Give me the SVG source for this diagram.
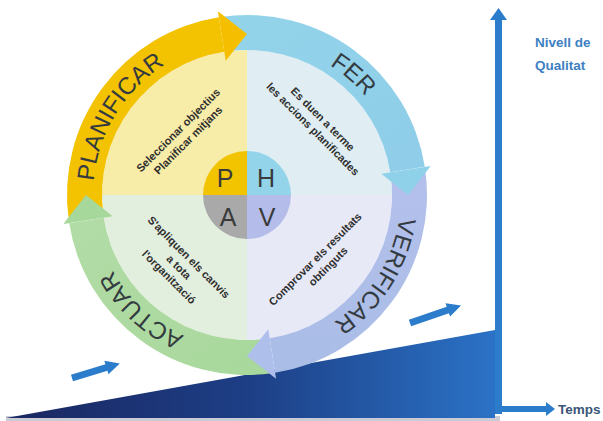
<svg xmlns="http://www.w3.org/2000/svg" width="603" height="421" viewBox="0 0 603 421">
<style>
.lbl{font-family:"Liberation Sans",Arial,sans-serif;font-size:24px;fill:#333a40}
.q{font-family:"Liberation Sans",Arial,sans-serif;font-size:11px;font-weight:bold;fill:#2e2e2e;text-anchor:middle}
.let{font-family:"Liberation Sans",Arial,sans-serif;font-size:25px;fill:#3a3a3a;text-anchor:middle}
.ax{font-family:"Liberation Sans",Arial,sans-serif;font-weight:bold;font-size:13.5px}
.blue{fill:#2b7dcc}
</style>
<defs>
<linearGradient id="wedge" x1="0" y1="0" x2="1" y2="0">
<stop offset="0" stop-color="#1a2660"/>
<stop offset="0.5" stop-color="#1d3f86"/>
<stop offset="1" stop-color="#2b72c6"/>
</linearGradient>
<linearGradient id="gBlue" x1="0" y1="0" x2="1" y2="1">
<stop offset="0" stop-color="#93d4ea"/>
<stop offset="1" stop-color="#8fcde8"/>
</linearGradient>
<linearGradient id="gLav" x1="0" y1="0" x2="0" y2="1">
<stop offset="0" stop-color="#b4c0ec"/>
<stop offset="1" stop-color="#a9bde6"/>
</linearGradient>
<linearGradient id="gGreen" x1="1" y1="1" x2="0" y2="0">
<stop offset="0" stop-color="#a8d89c"/>
<stop offset="1" stop-color="#b2dca6"/>
</linearGradient>
<path id="tp" d="M401,195 A154,154 0 1 1 93,195 A154,154 0 1 1 401,195"/>
</defs>
<rect width="603" height="421" fill="#ffffff"/>

<g id="background">
<rect x="6" y="416" width="494" height="5" fill="#c9ccd4"/>
<polygon points="6,418 495,330 495,418" fill="url(#wedge)"/>
</g>

<g id="connectors">
<rect x="495" y="18" width="7" height="396" class="blue"/>
<polygon points="490,20 498.5,8 507,20" class="blue"/>
<rect x="498" y="406" width="50" height="6" class="blue"/>
<polygon points="546,402 555,409 546,416" class="blue"/>
<g transform="translate(72,378) rotate(-17)">
<polygon points="0,-3.5 36,-3.5 36,-7 50,0 36,7 36,3.5 0,3.5" class="blue"/>
</g>
<g transform="translate(410,323) rotate(-19)">
<polygon points="0,-3.5 40,-3.5 40,-7 54,0 40,7 40,3.5 0,3.5" class="blue"/>
</g>
</g>

<g id="quadrants">
<path d="M247,195 L102,195 A145,145 0 0 1 247,50 Z" fill="#f7eca8"/>
<path d="M247,195 L247,50 A145,145 0 0 1 392,195 Z" fill="#e0eef3"/>
<path d="M247,195 L392,195 A145,145 0 0 1 247,340 Z" fill="#e8e9f6"/>
<path d="M247,195 L247,340 A145,145 0 0 1 102,195 Z" fill="#e3efde"/>
</g>

<g id="bands">
<path d="M68.75,220.06 A180,180 0 0 1 218.85,17.21 L224.32,51.78 A145,145 0 0 0 103.41,215.18 Z" fill="#f3c200"/>
<path d="M221.94,16.75 A180,180 0 0 1 424.79,166.85 L390.22,172.32 A145,145 0 0 0 226.82,51.41 Z" fill="url(#gBlue)"/>
<path d="M425.25,169.94 A180,180 0 0 1 275.15,372.79 L269.68,338.22 A145,145 0 0 0 390.59,174.82 Z" fill="url(#gLav)"/>
<path d="M272.06,373.25 A180,180 0 0 1 69.21,223.15 L103.78,217.68 A145,145 0 0 0 267.18,338.59 Z" fill="url(#gGreen)"/>
</g>

<g id="planificar">
<polygon points="217.91,11.29 247,34 225.73,60.67" fill="#f5bf00"/>
<text class="lbl"><textPath href="#tp" startOffset="58.75%" text-anchor="middle">PLANIFICAR</textPath></text>
<g transform="translate(183,135) rotate(-45)">
<text class="q" x="0" y="-3">Seleccionar objectius</text>
<text class="q" x="0" y="11">Planificar mitjans</text>
</g>
</g>

<g id="fer">
<polygon points="430.71,165.91 408,195 381.33,173.73" fill="#8fd1e9"/>
<text class="lbl"><textPath href="#tp" startOffset="86.5%" text-anchor="middle">FER</textPath></text>
<g transform="translate(318,124) rotate(45)">
<text class="q" x="0" y="-3">Es duen a terme</text>
<text class="q" x="0" y="11">les accions planificades</text>
</g>
</g>

<g id="verificar">
<polygon points="276.09,378.71 247,356 268.27,329.33" fill="#aebfec"/>
<text class="lbl"><textPath href="#tp" startOffset="8.9%" text-anchor="middle">VERIFICAR</textPath></text>
<g transform="translate(320,264) rotate(-45)">
<text class="q" x="0" y="-3">Comprovar els resultats</text>
<text class="q" x="4" y="11">obtinguts</text>
</g>
</g>

<g id="actuar">
<polygon points="63.29,224.09 86,195 112.67,216.27" fill="#a6d89c"/>
<text class="lbl"><textPath href="#tp" startOffset="36.8%" text-anchor="middle">ACTUAR</textPath></text>
<g transform="translate(179,267) rotate(45)">
<text class="q" x="0" y="-10">S'apliquen els canvis</text>
<text class="q" x="0" y="4">a tota</text>
<text class="q" x="0" y="18">l'organització</text>
</g>
</g>

<g id="phav">
<path d="M247,195 L203,195 A44,44 0 0 1 247,151 Z" fill="#f2c400"/>
<path d="M247,195 L247,151 A44,44 0 0 1 291,195 Z" fill="#93d4ea"/>
<path d="M247,195 L291,195 A44,44 0 0 1 247,239 Z" fill="#b4bdea"/>
<path d="M247,195 L247,239 A44,44 0 0 1 203,195 Z" fill="#a9a9aa"/>
<text class="let" x="225" y="187">P</text>
<text class="let" x="266" y="187">H</text>
<text class="let" x="228" y="226">A</text>
<text class="let" x="267" y="226">V</text>
</g>

<g id="axis-labels">
<text class="ax" x="535" y="47" fill="#3d7fc2">Nivell de</text>
<text class="ax" x="535" y="70" fill="#3d7fc2">Qualitat</text>
<text class="ax" x="558" y="414" fill="#3a5578">Temps</text>
</g>
</svg>
